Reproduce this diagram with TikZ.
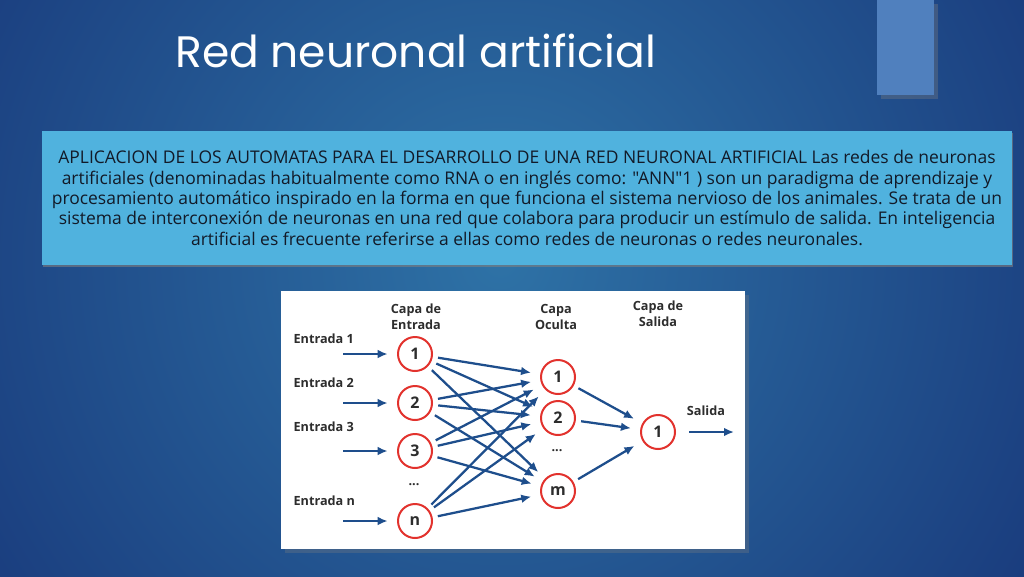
\documentclass[tikz,border=0pt]{standalone}
\usepackage{fontspec}
\setmainfont{Open Sans}[Ligatures=TeXOff]
\newfontfamily\titlefont{Poppins}
\usetikzlibrary{positioning,shadows,arrows.meta}

\definecolor{bgdark}{RGB}{16,34,106}
\definecolor{bglight}{RGB}{46,114,166}
\definecolor{barblue}{RGB}{80,128,190}
\definecolor{boxblue}{RGB}{80,178,222}
\definecolor{boxtext}{RGB}{18,26,40}
\definecolor{neuronred}{RGB}{226,50,45}
\definecolor{linkblue}{RGB}{30,78,140}
\definecolor{labelgray}{RGB}{45,45,45}

\tikzset{
  neuron/.style={circle,draw=neuronred,line width=1.5pt,fill=white,
    minimum size=25.5pt,inner sep=0pt,font=\bfseries\fontsize{12}{12}\selectfont,text=labelgray},
  link/.style={-{Latex[length=7.5pt,width=6.5pt]},draw=linkblue,line width=1.7pt,shorten <=4pt,shorten >=7pt},
  inlink/.style={-{Latex[length=7.5pt,width=6.5pt]},draw=linkblue,line width=1.7pt,shorten >=7pt},
  lbl/.style={font=\bfseries\fontsize{9.5}{12}\selectfont,text=labelgray,align=center,inner sep=1pt}
}

\begin{document}
\begin{tikzpicture}[x=0.75pt,y=-0.75pt]
  \useasboundingbox (0,0) rectangle (1024,576);
  % background
  \begin{scope}
    \clip (0,0) rectangle (1024,576);
    \shade[inner color=bglight,outer color=bgdark] (500,260) circle (920);
  \end{scope}
  \fill[barblue,drop shadow={opacity=0.35}] (877,0) rectangle (934,95);

  % title
  \node[anchor=base west,inner sep=0pt,text=white,font=\titlefont\fontsize{33}{33}\selectfont]
    (title) at (175,67) {Red neuronal artificial};

  % text box
  \fill[boxblue,drop shadow={opacity=0.6,shadow xshift=1pt,shadow yshift=-1.5pt}]
    (42,131) rectangle (1012,265);
  \node[align=center,text=boxtext,font=\fontsize{13.1}{15.2}\selectfont]
    (intro) at (527,198) {APLICACION DE LOS AUTOMATAS PARA EL DESARROLLO DE UNA RED NEURONAL ARTIFICIAL Las redes de neuronas\\
    artificiales (denominadas habitualmente como RNA o en inglés como: "ANN"1 ) son un paradigma de aprendizaje y\\
    procesamiento automático inspirado en la forma en que funciona el sistema nervioso de los animales. Se trata de un\\
    sistema de interconexión de neuronas en una red que colabora para producir un estímulo de salida. En inteligencia\\
    artificial es frecuente referirse a ellas como redes de neuronas o redes neuronales.};

  % network picture
  \fill[white,drop shadow={opacity=0.3}] (281,291) rectangle (745,549);

  \node[neuron] (in1) at (415,354) {1};
  \node[neuron] (in2) at (415,403) {2};
  \node[neuron] (in3) at (415,451) {3};
  \node[neuron] (inn) at (415,521) {n};
  \node[neuron] (hid1) at (558,377) {1};
  \node[neuron] (hid2) at (558,418) {2};
  \node[neuron] (hidm) at (558,491) {m};
  \node[neuron] (out1) at (658,432) {1};

  \node[lbl] (dotsin) at (414,485) {...};
  \node[lbl] (dotshid) at (557,451) {...};

  \node[lbl] (capain) at (416,317) {Capa de\\Entrada};
  \node[lbl] (capahid) at (556,317) {Capa\\Oculta};
  \node[lbl] (capaout) at (658,314) {Capa de\\Salida};

  \coordinate (e1) at (343,354);
  \coordinate (e2) at (343,403);
  \coordinate (e3) at (343,451);
  \coordinate (en) at (343,521);
  \coordinate (sal) at (734,432);

  \node[lbl,anchor=west] (lin1) at (292,339) {Entrada 1};
  \node[lbl,anchor=west] (lin2) at (292,383) {Entrada 2};
  \node[lbl,anchor=west] (lin3) at (292,427) {Entrada 3};
  \node[lbl,anchor=west] (linn) at (292,501) {Entrada n};
  \node[lbl] (lsal) at (706,411) {Salida};

  \foreach \i in {1,2,3,n}
    \draw[inlink] (e\i) -- (in\i);
  \foreach \i in {1,2,3,n}
    \foreach \h in {1,2,m}
      \draw[link] (in\i) -- (hid\h);
  \foreach \h in {1,2,m}
    \draw[link] (hid\h) -- (out1);
  \draw[link,shorten <=10pt,shorten >=0pt] (out1) -- (sal);
\end{tikzpicture}
\end{document}
